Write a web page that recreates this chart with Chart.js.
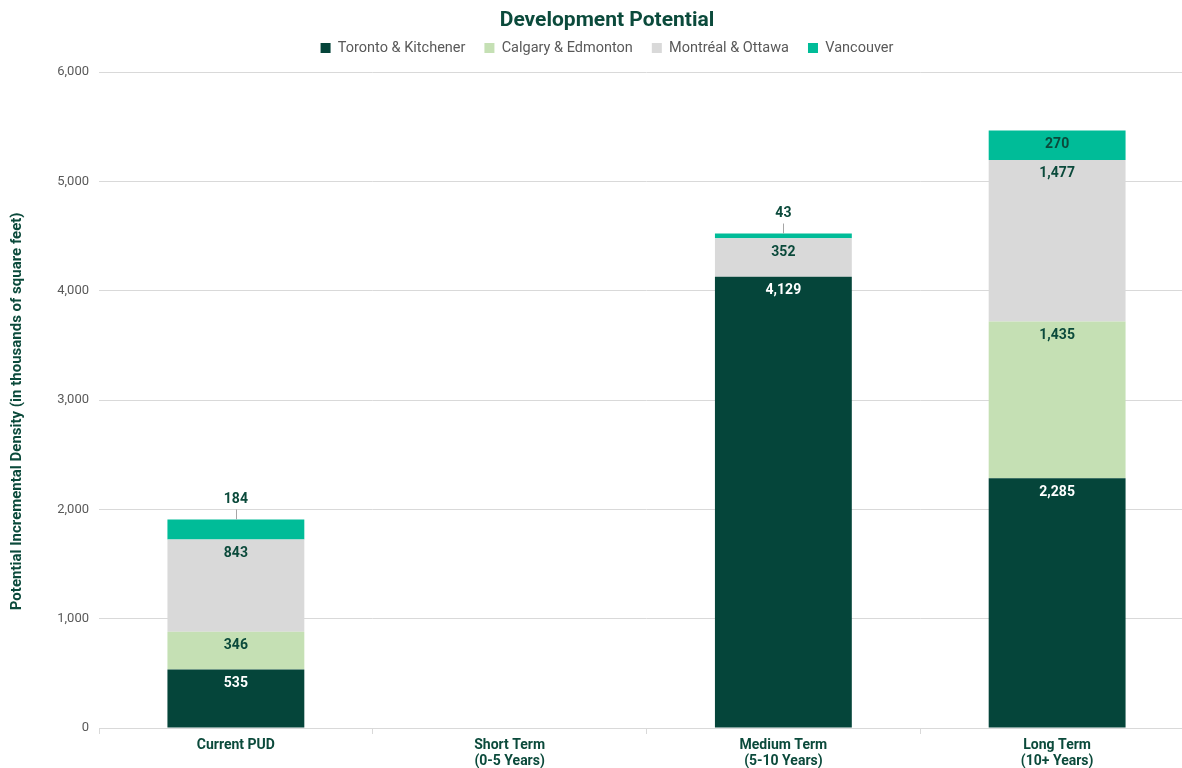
<!DOCTYPE html>
<html>
<head>
<meta charset="utf-8">
<script src="https://cdn.jsdelivr.net/npm/chart.js@4"></script>
<style>
  html, body { margin: 0; padding: 0; overflow: hidden; background: #fff; }
  #wrap { width: 1212px; height: 768px; }
</style>
</head>
<body>
<div id="wrap"><canvas id="myChart"></canvas></div>
<script>
const categories = ['Current PUD', ['Short Term', '(0-5 Years)'], ['Medium Term', '(5-10 Years)'], ['Long Term', '(10+ Years)']];
const seriesNames = ['Toronto & Kitchener', 'Calgary & Edmonton', 'Montréal & Ottawa', 'Vancouver'];
const toronto = [535, 0, 4129, 2285];
const calgary = [346, 0, 0, 1435];
const montreal = [843, 0, 352, 1477];
const vancouver = [184, 0, 43, 270];
const colors = ['#05453a', '#c5e0b4', '#d9d9d9', '#00bc98'];

const darkGreen = '#0b4a3b';
const fontFamily = 'Roboto, "Liberation Sans", sans-serif';

// draws the segment values; tiny segments get the label above with a leader line
const valueLabels = {
    id: 'valueLabels',
    afterDatasetsDraw(chart) {
        const ctx = chart.ctx;
        ctx.save();
        ctx.font = 'bold 14px ' + fontFamily;
        ctx.textAlign = 'center';
        ctx.textBaseline = 'middle';
        chart.data.datasets.forEach((ds, i) => {
            const meta = chart.getDatasetMeta(i);
            meta.data.forEach((bar, j) => {
                const v = ds.data[j];
                if (!v) return;
                const top = Math.min(bar.y, bar.base);
                const h = Math.abs(bar.base - bar.y);
                const text = v.toLocaleString('en-US');
                if (h < 24) {
                    ctx.strokeStyle = '#a6a6a6';
                    ctx.lineWidth = 1;
                    ctx.beginPath();
                    ctx.moveTo(Math.round(bar.x) + 0.5, top - 10);
                    ctx.lineTo(Math.round(bar.x) + 0.5, top);
                    ctx.stroke();
                    ctx.fillStyle = darkGreen;
                    ctx.fillText(text, bar.x, top - 20);
                } else {
                    ctx.fillStyle = i === 0 ? '#ffffff' : darkGreen;
                    ctx.fillText(text, bar.x, top + 14);
                }
            });
        });
        ctx.restore();
    }
};

// a bit more room under the legend than chart.js gives by default
const legendGap = {
    id: 'legendGap',
    beforeLayout(chart) {
        const lg = chart.legend;
        if (lg && !lg._patched) {
            const fit = lg.fit;
            lg.fit = function() { fit.call(this); this.height += 7; };
            lg._patched = true;
        }
    }
};

const ctx = document.getElementById('myChart').getContext('2d');
const myChart = new Chart(ctx, {
    type: 'bar',
    data: {
        labels: categories,
        datasets: [
            { label: seriesNames[0], data: toronto, backgroundColor: colors[0] },
            { label: seriesNames[1], data: calgary, backgroundColor: colors[1] },
            { label: seriesNames[2], data: montreal, backgroundColor: colors[2] },
            { label: seriesNames[3], data: vancouver, backgroundColor: colors[3] }
        ]
    },
    options: {
        responsive: true,
        maintainAspectRatio: false,
        animation: false,
        layout: { padding: { left: 20, right: 18, top: 0, bottom: 0 } },
        datasets: {
            bar: { categoryPercentage: 1, barPercentage: 0.5 }
        },
        plugins: {
            title: {
                display: true,
                text: 'Development Potential',
                color: darkGreen,
                font: { family: fontFamily, size: 21, weight: 'bold' },
                padding: { top: 8, bottom: -11.5 }
            },
            legend: {
                display: true,
                labels: {
                    color: '#595959',
                    font: { family: fontFamily, size: 14.5 },
                    usePointStyle: true,
                    pointStyle: 'rect',
                    boxWidth: 10,
                    boxHeight: 10,
                    padding: 19
                }
            },
            tooltip: { enabled: false }
        },
        scales: {
            x: {
                stacked: true,
                grid: {
                    offset: true,
                    drawOnChartArea: false,
                    drawTicks: true,
                    tickLength: 6,
                    color: '#d9d9d9'
                },
                border: { display: true, color: '#d9d9d9', width: 1 },
                ticks: {
                    color: darkGreen,
                    font: { family: fontFamily, size: 14, weight: 'bold', lineHeight: 1.15 },
                    maxRotation: 0,
                    padding: 3
                },
                afterFit: function(scale) { scale.height = 40; }
            },
            y: {
                stacked: true,
                min: 0,
                max: 6000,
                ticks: {
                    stepSize: 1000,
                    color: '#595959',
                    font: { family: fontFamily, size: 13 },
                    padding: 10,
                    callback: v => v.toLocaleString('en-US')
                },
                grid: { color: '#d9d9d9', drawTicks: false },
                border: { display: false },
                title: {
                    display: true,
                    // trailing spaces nudge the text a little lower, like the original
                    text: 'Potential Incremental Density (in thousands of square feet)      ',
                    color: darkGreen,
                    font: { family: fontFamily, size: 15, weight: 'bold' },
                    padding: { top: -12, bottom: 0 }
                },
                afterFit: function(scale) { scale.width = 79; }
            }
        }
    },
    plugins: [valueLabels, legendGap]
});
</script>
</body>
</html>
